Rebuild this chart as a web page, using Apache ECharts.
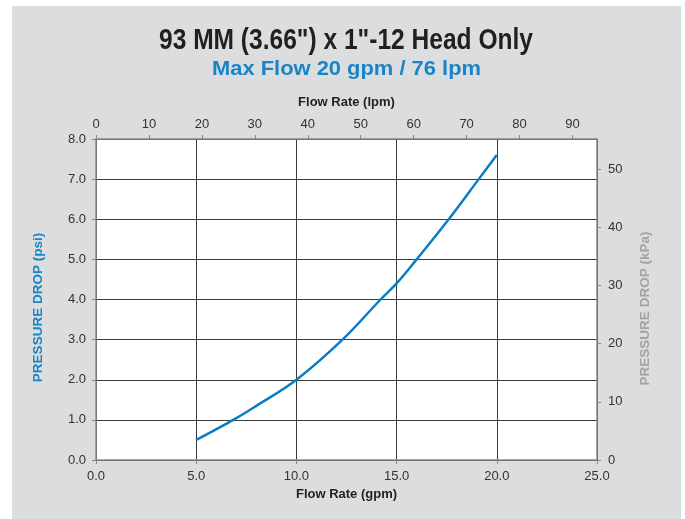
<!DOCTYPE html>
<html><head><meta charset="utf-8">
<script src="https://cdn.jsdelivr.net/npm/echarts@6/dist/echarts.min.js"></script>
<style>html,body{margin:0;padding:0;background:#fff}#c{width:685px;height:519px}</style>
</head><body><div id="c"></div>
<script>
const titleText = '93 MM (3.66") x 1"-12 Head Only';
const subtitleText = 'Max Flow 20 gpm / 76 lpm';
const flowGpm = [5, 6.85, 8, 10, 12.3, 14.2, 15, 16, 17.6, 19.1, 20];
const dropPsi = [0.5, 1.0, 1.35, 2.0, 3.0, 4.0, 4.4, 5.0, 6.0, 7.0, 7.6];
const GPM_TO_LPM = 3.785;
const PSI_TO_KPA = 6.895;
const gpmMax = 25, psiMax = 8;

const titleFont = 'bold 29px "Liberation Sans", Arial, sans-serif';
const subFont = 'bold 21px "Liberation Sans", Arial, sans-serif';
const mctx = document.createElement('canvas').getContext('2d');
mctx.font = titleFont;
const titleScale = 374 / mctx.measureText(titleText).width;
mctx.font = subFont;
const subScale = 269 / mctx.measureText(subtitleText).width;

const FF = 'Liberation Sans, Arial, sans-serif';
const chart = echarts.init(document.getElementById('c'), null, {renderer: 'canvas'});
const lab = {fontFamily: FF, fontSize: 13, color: '#333'};
const axisGray = {show: true, onZero: false, lineStyle: {color: '#8a8a8a', width: 1.5}};
const tickGray = {show: true, length: 4, lineStyle: {color: '#8a8a8a'}};
const gridLine = {show: true, lineStyle: {color: '#3a3a3a', width: 1}};
chart.setOption({
  animation: false,
  backgroundColor: '#fff',
  graphic: [
    {type: 'rect', z: -10, shape: {x: 12, y: 6, width: 669, height: 520}, style: {fill: '#dcdddf'}},
    {type: 'text', x: 346, y: 41, scaleX: titleScale, style: {text: titleText, textAlign: 'center', textVerticalAlign: 'middle',
      font: titleFont, fill: '#231f20'}},
    {type: 'text', x: 346.5, y: 69, scaleX: subScale, style: {text: subtitleText, textAlign: 'center', textVerticalAlign: 'middle',
      font: subFont, fill: '#1a84c7'}}
  ],
  grid: {left: 96, right: 88, top: 139, bottom: 59, show: true, backgroundColor: '#fff', borderWidth: 0},
  xAxis: [
    {type: 'value', position: 'bottom', min: 0, max: gpmMax, interval: 5,
     name: 'Flow Rate (gpm)', nameLocation: 'middle', nameGap: 25,
     nameTextStyle: {fontFamily: FF, fontSize: 13, fontWeight: 'bold', color: '#231f20'},
     axisLine: axisGray, axisTick: tickGray, splitLine: gridLine,
     axisLabel: Object.assign({margin: 10, formatter: v => v.toFixed(1)}, lab)},
    {type: 'value', position: 'top', min: 0, max: gpmMax * GPM_TO_LPM, interval: 10,
     name: 'Flow Rate (lpm)', nameLocation: 'middle', nameGap: 30,
     nameTextStyle: {fontFamily: FF, fontSize: 13, fontWeight: 'bold', color: '#231f20'},
     axisLine: axisGray, axisTick: tickGray, splitLine: {show: false},
     axisLabel: Object.assign({margin: 8, showMaxLabel: false, formatter: v => String(v)}, lab)}
  ],
  yAxis: [
    {type: 'value', position: 'left', min: 0, max: psiMax, interval: 1,
     name: 'PRESSURE DROP (psi)', nameLocation: 'middle', nameGap: 51, nameRotate: 90,
     nameTextStyle: {fontFamily: FF, fontSize: 13.5, fontWeight: 'bold', color: '#1a84c7', padding: [0, 16, 0, 0]},
     axisLine: axisGray, axisTick: tickGray, splitLine: gridLine,
     axisLabel: Object.assign({margin: 10, formatter: v => v.toFixed(1)}, lab)},
    {type: 'value', position: 'right', min: 0, max: psiMax * PSI_TO_KPA, interval: 10,
     name: 'PRESSURE DROP (kPa)', nameLocation: 'middle', nameGap: 41, nameRotate: 90,
     nameTextStyle: {fontFamily: FF, fontSize: 13.5, fontWeight: 'bold', color: '#a3a3a3', padding: [0, 18, 0, 0]},
     axisLine: axisGray, axisTick: tickGray, splitLine: {show: false},
     axisLabel: Object.assign({margin: 11, showMaxLabel: false, formatter: v => String(v)}, lab)}
  ],
  series: [{
    type: 'line', xAxisIndex: 0, yAxisIndex: 0, smooth: 0.4, showSymbol: false,
    lineStyle: {color: '#0a7dc3', width: 2.5},
    data: flowGpm.map((x, i) => [x, dropPsi[i]])
  }]
});
</script></body></html>
